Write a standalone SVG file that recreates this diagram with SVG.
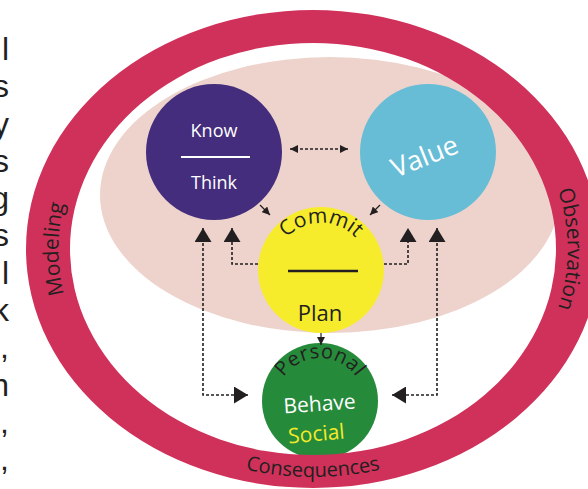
<svg xmlns="http://www.w3.org/2000/svg" width="588" height="489" viewBox="0 0 588 489">
  <defs>
    <style>
      .lbl { font-family: "Open Sans", "Noto Sans", sans-serif; }
      .ink { fill: #231f20; }
      .white { fill: #ffffff; }
      .dash { fill: none; stroke: #231f20; stroke-width: 1.6; stroke-dasharray: 3 2; }
      .solid { fill: none; stroke: #231f20; stroke-width: 1.2; }
      .frag { font-family: "Liberation Sans", Arial, sans-serif; font-size: 32px; fill: #231f20; }
    </style>
    <marker id="bigHead" viewBox="0 0 14 17" refX="14" refY="8.5" markerWidth="14" markerHeight="17" markerUnits="userSpaceOnUse" orient="auto-start-reverse">
      <path d="M0,0 L14,8.5 L0,17 Z" fill="#231f20"/>
    </marker>
    <marker id="smallHead" viewBox="0 0 8 8" refX="8" refY="4" markerWidth="8" markerHeight="8" markerUnits="userSpaceOnUse" orient="auto-start-reverse">
      <path d="M0,0 L8,4 L0,8 Z" fill="#231f20"/>
    </marker>
    <!-- baselines for curved labels -->
    <path id="arcCommit" d="M273,271 A48,48 0 0,1 369,271"/>
    <path id="arcPersonal" d="M276,402 A44,44 0 0,1 364,402"/>
    <path id="arcBottom" d="M48,249 A265,228 0 0,0 578,249"/>
    <path id="arcLeft" d="M133,401 A255,215 0 0,1 133,97"/>
    <path id="arcRight" d="M493,97 A255,215 0 0,1 493,401"/>
  </defs>

  <!-- clipped paragraph letters along the left edge (line pitch about 37.3px) -->
  <g id="margin-text" class="frag" text-anchor="end">
    <text x="9" y="60">l</text>
    <text x="9" y="97">s</text>
    <text x="9" y="135">y</text>
    <text x="9" y="172">s</text>
    <text x="9" y="209">g</text>
    <text x="9" y="246">s</text>
    <text x="9" y="284">l</text>
    <text x="9" y="321">k</text>
    <text x="9" y="358">,</text>
    <text x="9" y="396">n</text>
    <text x="9" y="433">,</text>
    <text x="9" y="470">,</text>
  </g>

  <!-- inner field -->
  <g id="field">
    <ellipse cx="330" cy="195" rx="230" ry="138" fill="#edd3cb"/>
  </g>

  <g id="know-think">
    <circle cx="214" cy="152" r="68" fill="#432d7c"/>
    <text class="lbl white" x="214" y="137" font-size="18" text-anchor="middle">Know</text>
    <line x1="181" y1="157" x2="250" y2="157" stroke="#ffffff" stroke-width="2"/>
    <text class="lbl white" x="214" y="189" font-size="18" text-anchor="middle">Think</text>
  </g>

  <g id="value">
    <circle cx="428" cy="152" r="68" fill="#67bdd6"/>
    <text class="lbl white" x="0" y="0" font-size="27" text-anchor="middle" transform="translate(428,165) rotate(-22)">Value</text>
  </g>

  <g id="commit-plan">
    <circle cx="321" cy="270" r="63" fill="#f7ec2c"/>
    <text class="lbl ink" font-size="21"><textPath href="#arcCommit" startOffset="50%" text-anchor="middle">Commit</textPath></text>
    <line x1="288" y1="271" x2="358" y2="271" stroke="#231f20" stroke-width="2.4"/>
    <text class="lbl ink" x="320" y="321" font-size="22" text-anchor="middle">Plan</text>
  </g>

  <g id="behave">
    <circle cx="320" cy="401" r="58" fill="#268a3b"/>
    <text class="lbl ink" font-size="20" letter-spacing="0.5"><textPath href="#arcPersonal" startOffset="50%" text-anchor="middle">Personal</textPath></text>
    <text class="lbl white" x="0" y="0" font-size="21" text-anchor="middle" transform="translate(320,411) rotate(-4)">Behave</text>
    <text x="0" y="0" font-size="21" text-anchor="middle" class="lbl" fill="#f3ea2a" transform="translate(317,441) rotate(-5)">Social</text>
  </g>

  <!-- outer ring -->
  <g id="ring">
    <path fill="#d0315a" fill-rule="evenodd" d="M26,249 a287,239 0 1,0 574,0 a287,239 0 1,0 -574,0 Z M70,249 a243,206 0 1,0 486,0 a243,206 0 1,0 -486,0 Z"/>
    <text class="lbl ink" font-size="20"><textPath href="#arcBottom" startOffset="50%" text-anchor="middle">Consequences</textPath></text>
    <text class="lbl ink" font-size="21"><textPath href="#arcLeft" startOffset="50%" text-anchor="middle">Modeling</textPath></text>
    <text class="lbl ink" font-size="21"><textPath href="#arcRight" startOffset="50%" text-anchor="middle">Observation</textPath></text>
  </g>

  <g id="connectors">
    <path class="dash" d="M290,149 H348" marker-start="url(#smallHead)" marker-end="url(#smallHead)"/>
    <path class="solid" d="M260,205 L270,215" marker-end="url(#smallHead)"/>
    <path class="solid" d="M380,205 L370,215" marker-end="url(#smallHead)"/>
    <path class="solid" d="M321,333 V345" marker-end="url(#smallHead)"/>
    <path class="dash" d="M258,264 H232 V228" marker-end="url(#bigHead)"/>
    <path class="dash" d="M384,264 H408 V228" marker-end="url(#bigHead)"/>
    <path class="dash" d="M203,228 V395 H248" marker-start="url(#bigHead)" marker-end="url(#bigHead)"/>
    <path class="dash" d="M437,228 V395 H392" marker-start="url(#bigHead)" marker-end="url(#bigHead)"/>
  </g>
</svg>
